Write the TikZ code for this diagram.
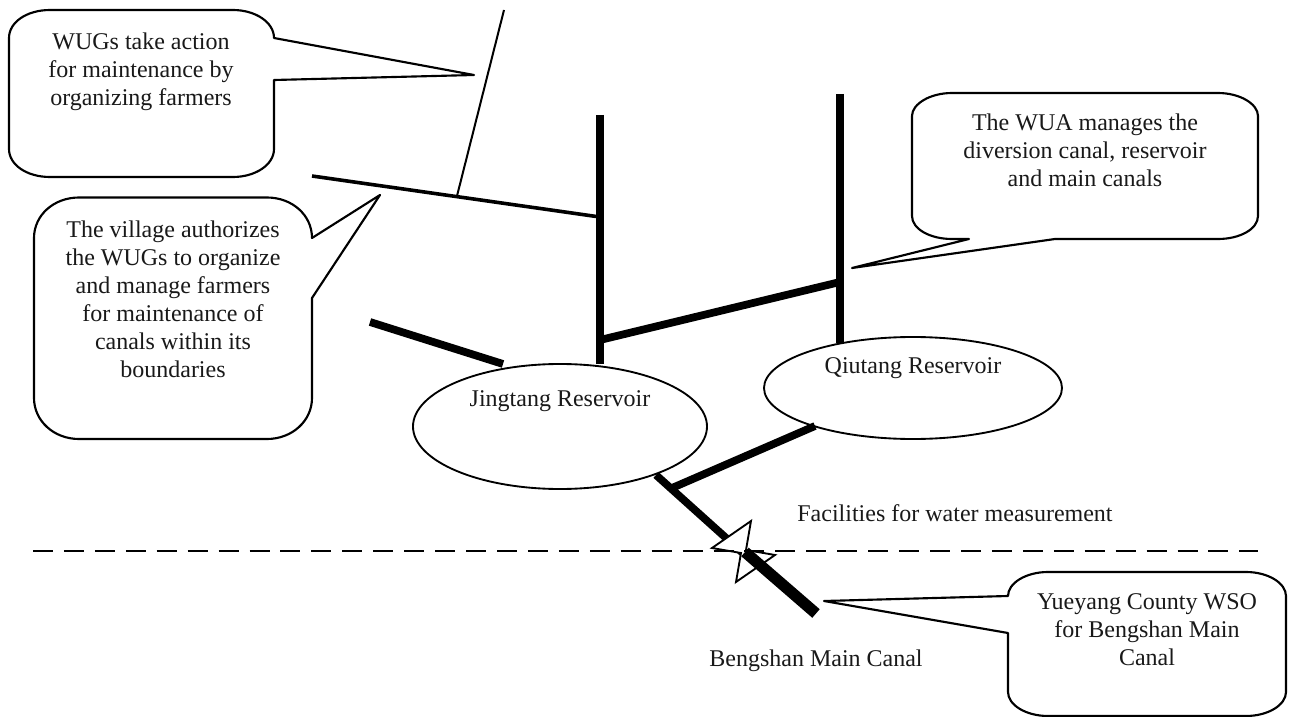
\documentclass[tikz,border=0pt]{standalone}
\usepackage{fontspec}
\usetikzlibrary{shapes.geometric}
\setmainfont{Liberation Serif}
\tikzset{
  lbl/.style={align=center,font=\fontsize{18}{21}\selectfont,inner sep=0pt,text=black!90},
  callout/.style={draw=black,line width=1.6pt,fill=white,line join=round},
  res/.style={draw=black,line width=1.4pt,fill=white,ellipse,inner sep=0pt},
  thincanal/.style={line width=1.5pt},
  midcanal/.style={line width=2.7pt},
  canal/.style={line width=5.8pt},
  bigcanal/.style={line width=8.5pt},
  gate/.style={draw=black,line width=1.4pt,fill=white,line join=miter},
  border/.style={line width=1.4pt,dash pattern=on 15pt off 8.2pt},
}
\begin{document}
\begin{tikzpicture}[x=0.75pt,y=-0.75pt]
\useasboundingbox (0,0) rectangle (1290,717);
% coordinates
\coordinate (t1) at (504,10);
\coordinate (t2) at (457,196);
\coordinate (v1a) at (312,176);
\coordinate (v1b) at (600,217);
\coordinate (j1a) at (600,115);
\coordinate (j1b) at (600,364);
\coordinate (q1a) at (840,94);
\coordinate (q1b) at (840,343);
\coordinate (d1a) at (600,340);
\coordinate (d1b) at (840,282);
\coordinate (s1a) at (370,322);
\coordinate (s1b) at (503,364);
\coordinate (qa) at (815,426);
\coordinate (qb) at (672,488);
\coordinate (ma) at (656,475);
\coordinate (mb) at (745,555);
\coordinate (ba) at (745,552);
\coordinate (bb) at (816,613.5);
\coordinate (da) at (33,551);
\coordinate (db) at (1258,551);
% canals
\draw[thincanal] (t1) -- (t2);
\draw[midcanal] (v1a) -- (v1b);
\draw[canal] (j1a) -- (j1b);
\draw[canal] (q1a) -- (q1b);
\draw[canal] (d1a) -- (d1b);
\draw[canal] (s1a) -- (s1b);
% reservoirs
\node[res,minimum width=220.5pt,minimum height=93.75pt] (jing) at (560,426.5) {};
\node[res,minimum width=223.5pt,minimum height=76.5pt] (qiu) at (913,388) {};
\draw[canal] (qa) -- (qb);
\draw[canal] (ma) -- (mb);
% gate
\draw[gate] (712,548) -- (751,521) -- (746,550) -- (775,555) -- (736,582) -- (741,553) -- cycle;
\draw[border] (da) -- (db);
\draw[bigcanal] (ba) -- (bb);
% callouts
\draw[callout] (50,10) -- (233,10)
  .. controls (255,10) and (274,22) .. (274,38)
  -- (474,75) -- (274,80) -- (274,149)
  .. controls (274,165) and (255,177) .. (233,177)
  -- (50,177)
  .. controls (27,177) and (9,165) .. (9,149)
  -- (9,38)
  .. controls (9,22) and (27,10) .. (50,10) -- cycle;
\draw[callout] (79,197.5) -- (267,197.5)
  .. controls (292,197.5) and (312,215) .. (312,238)
  -- (380,195) -- (312,298) -- (312,398)
  .. controls (312,421) and (292,439) .. (267,439)
  -- (79,439)
  .. controls (54,439) and (34,421) .. (34,398)
  -- (34,238)
  .. controls (34,215) and (54,197.5) .. (79,197.5) -- cycle;
\draw[callout] (952,93) -- (1218,93)
  .. controls (1240,93) and (1258,104) .. (1258,116)
  -- (1258,216)
  .. controls (1258,229) and (1240,239) .. (1218,239)
  -- (1055,239) -- (852,268) -- (969,239) -- (952,239)
  .. controls (930,239) and (912,229) .. (912,216)
  -- (912,116)
  .. controls (912,104) and (930,93) .. (952,93) -- cycle;
\draw[callout] (1048,572) -- (1246,572)
  .. controls (1268,572) and (1286,583) .. (1286,596)
  -- (1286,692)
  .. controls (1286,705) and (1268,716) .. (1246,716)
  -- (1048,716)
  .. controls (1026,716) and (1008,705) .. (1008,692)
  -- (1008,633) -- (824,601) -- (1008,596)
  .. controls (1008,583) and (1026,572) .. (1048,572) -- cycle;
% labels
\node[lbl] (c1) at (141,71.5) {WUGs take action\\for maintenance by\\organizing farmers};
\node[lbl] (c2) at (173,299.5) {The village authorizes\\the WUGs to organize\\and manage farmers\\for maintenance of\\canals within its\\boundaries};
\node[lbl] (c3) at (1085,150) {The WUA manages the\\diversion canal, reservoir\\and main canals};
\node[lbl] (c4) at (1147,630) {Yueyang County WSO\\for Bengshan Main\\Canal};
\node[lbl] (l1) at (560,401) {Jingtang Reservoir};
\node[lbl] (l2) at (913,368) {Qiutang Reservoir};
\node[lbl] (l3) at (955,513) {Facilities for water measurement};
\node[lbl] (l4) at (816,661) {Bengshan Main Canal};
\end{tikzpicture}
\end{document}
